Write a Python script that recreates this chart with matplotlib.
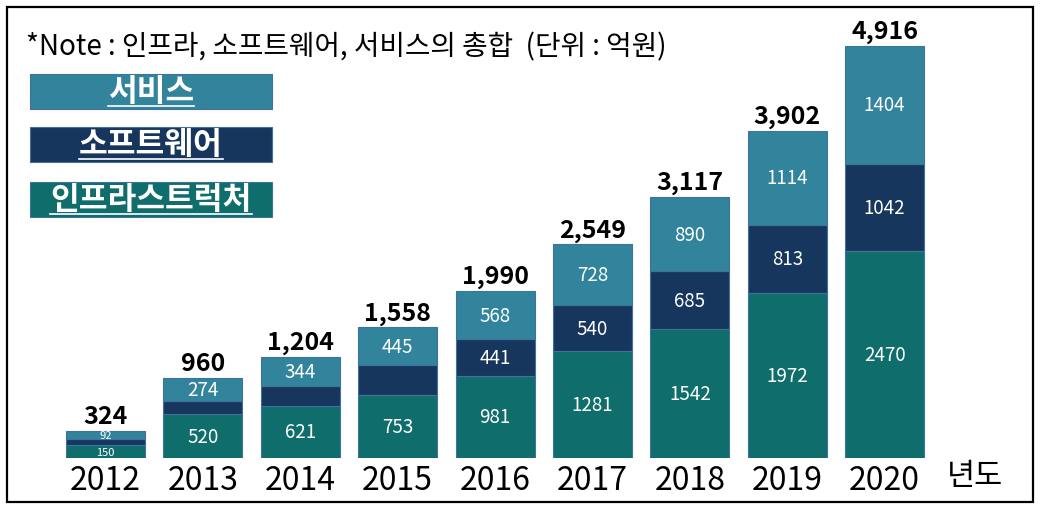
import numpy as np
import matplotlib
matplotlib.use("Agg")
import matplotlib.pyplot as plt
from matplotlib.patches import Rectangle
from matplotlib.lines import Line2D

plt.rcParams['font.family'] = ['Noto Sans CJK KR', 'DejaVu Sans']

# data (단위 : 억원)
years = ['2012', '2013', '2014', '2015', '2016', '2017', '2018', '2019', '2020']
infra = [150, 520, 621, 753, 981, 1281, 1542, 1972, 2470]
software = [82, 166, 239, 360, 441, 540, 685, 813, 1042]
services = [92, 274, 344, 445, 568, 728, 890, 1114, 1404]
totals = [324, 960, 1204, 1558, 1990, 2549, 3117, 3902, 4916]
show_sw_label = [False, False, False, False, True, True, True, True, True]

series_names = ['서비스', '소프트웨어', '인프라스트럭처']
colors = {'서비스': '#31849B', '소프트웨어': '#17365D', '인프라스트럭처': '#0F6E6C'}
edge = '#41719C'

W, H = 1049, 506


def fx(px):
    return px / W


def fy(py):
    return 1 - py / H


def seg_fs(v):
    # small segments get a smaller label so it stays inside
    return 13.5 if v >= 200 else 8


fig = plt.figure(figsize=(W / 100, H / 100), dpi=100)
ax = fig.add_axes([fx(27.6), fy(459), fx(1011.3) - fx(27.6), fy(8) - fy(459)])

x = np.arange(len(years))
bw = 0.81
infra = np.array(infra)
software = np.array(software)
services = np.array(services)

ax.bar(x, infra, bw, color=colors['인프라스트럭처'], edgecolor=edge, lw=0.8)
ax.bar(x, software, bw, bottom=infra, color=colors['소프트웨어'], edgecolor=edge, lw=0.8)
ax.bar(x, services, bw, bottom=infra + software, color=colors['서비스'], edgecolor=edge, lw=0.8)

for i in range(len(years)):
    ax.text(x[i], infra[i] / 2, str(infra[i]), ha='center', va='center', color='white',
            fontsize=seg_fs(infra[i]))
    if show_sw_label[i]:
        ax.text(x[i], infra[i] + software[i] / 2, str(software[i]), ha='center', va='center',
                color='white', fontsize=seg_fs(software[i]))
    ax.text(x[i], infra[i] + software[i] + services[i] / 2, str(services[i]), ha='center',
            va='center', color='white', fontsize=seg_fs(services[i]))
    top = infra[i] + software[i] + services[i]
    ax.annotate(f'{totals[i]:,}', (x[i], top), xytext=(0, 2), textcoords='offset points',
                ha='center', va='bottom', fontsize=18, fontweight='bold')

ax.set_xlim(-0.8, 9.3)
ax.set_ylim(0, 5381)
ax.set_xticks(x, years, fontsize=23)
ax.tick_params(axis='x', length=0, pad=4)
ax.set_yticks([])
for s in ax.spines.values():
    s.set_visible(False)
ax.patch.set_alpha(0)

fig.text(fx(975), fy(477), '년도', ha='center', va='center', fontsize=22)

fig.text(fx(26), fy(47), '*Note : 인프라, 소프트웨어, 서비스의 총합  (단위 : 억원)',
         ha='left', va='center', fontsize=20)

# legend boxes
box_tops = [75, 128, 183]
legend_texts = []
for name, t in zip(series_names, box_tops):
    fig.add_artist(Rectangle((fx(30), fy(t + 35)), fx(272) - fx(30), fy(t) - fy(t + 35),
                             transform=fig.transFigure, facecolor=colors[name],
                             edgecolor=edge, lw=0.8))
    legend_texts.append(fig.text(fx(151), fy(t + 17), name, ha='center', va='center',
                                 color='white', fontsize=22.5, fontweight='bold'))

# underline legend texts
fig.canvas.draw()
r = fig.canvas.get_renderer()
for t, top in zip(legend_texts, box_tops):
    bb = t.get_window_extent(r)
    y = fy(top + 32)
    fig.add_artist(Line2D([bb.x0 / W, bb.x1 / W], [y, y], transform=fig.transFigure,
                          color='white', lw=1.2))

# outer frame
fig.add_artist(Rectangle((fx(7), fy(503)), fx(1033) - fx(7), fy(8) - fy(503),
                         transform=fig.transFigure, fill=False, edgecolor='black', lw=1.6))

fig.savefig('out.png', dpi=100)
